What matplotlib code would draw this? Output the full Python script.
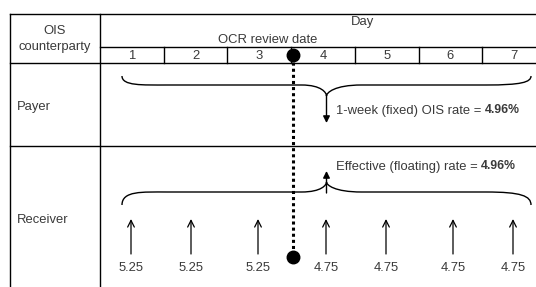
import matplotlib.pyplot as plt
from matplotlib.path import Path
from matplotlib.patches import PathPatch

# %% Data

days = [1, 2, 3, 4, 5, 6, 7]
daily_rates = ["5.25", "5.25", "5.25", "4.75", "4.75", "4.75", "4.75"]
fixed_rate = "4.96%"
floating_rate = "4.96%"
rows = ["Payer", "Receiver"]
review_day = 4  # OCR review at start of day 4

# %% Layout

W, H = 536, 287
x_left, x_col = 10, 100
col_w = 63.7
edges = [x_col + col_w * i for i in range(len(days) + 1)]
centers = [x_col + col_w * (i + 0.5) for i in range(len(days))]
arrow_x = [131, 191, 258, 326, 386, 453, 513]

y_top, y_sub, y_days, y_payer, y_bottom = 14, 47, 63, 146, 287

text_color = "#3a3a3a"
font = "Liberation Sans"
fs = 9.4

fig = plt.figure(figsize=(W / 100, H / 100), dpi=100)
ax = fig.add_axes([0, 0, 1, 1])
ax.set_xlim(0, W)
ax.set_ylim(H, 0)
ax.axis("off")

lw = 1.0
# table grid
ax.plot([x_left, W], [y_top, y_top], color="black", lw=lw)
ax.plot([x_col, W], [y_sub, y_sub], color="black", lw=lw)
ax.plot([x_left, W], [y_days, y_days], color="black", lw=lw)
ax.plot([x_left, W], [y_payer, y_payer], color="black", lw=lw)
ax.plot([x_left, x_left], [y_top, y_bottom], color="black", lw=lw)
ax.plot([x_col, x_col], [y_top, y_bottom], color="black", lw=lw)
for e in edges[1:-1]:
    ax.plot([e, e], [y_sub, y_days], color="black", lw=lw)

# header text
ax.text(55, 31, "OIS", ha="center", va="center", fontsize=fs, family=font, color=text_color)
ax.text(55, 47, "counterparty", ha="center", va="center", fontsize=fs, family=font, color=text_color)
ax.text(363, 22, "Day", ha="center", va="center", fontsize=fs, family=font, color=text_color)
ax.text(268, 40, "OCR review date", ha="center", va="center", fontsize=fs, family=font, color=text_color)
for d, c in zip(days, centers):
    ax.text(c, 56, str(d), ha="center", va="center", fontsize=fs, family=font, color=text_color)

ax.text(17, 107, rows[0], ha="left", va="center", fontsize=fs, family=font, color=text_color)
ax.text(17, 220, rows[1], ha="left", va="center", fontsize=fs, family=font, color=text_color)

# review date marker
rx = edges[review_day - 1] + 2
ax.plot([rx, rx], [56, 256], color="black", lw=2.2, linestyle=(0, (1, 1)))
ax.plot([rx], [55], "o", color="black", ms=9)
ax.plot([rx], [257], "o", color="black", ms=9)


def brace(x0, x1, y, tip, ends):
    xm = (x0 + x1) / 2
    verts = [
        (x0, ends), (x0, y - (ends - y) * 0.1), (x0 + 20, y), (x0 + 45, y),
        (xm - 40, y), (xm - 25, y),
        (xm - 5, y), (xm, tip + (y - tip) * 0.3), (xm, tip),
        (xm, tip + (y - tip) * 0.3), (xm + 8, y), (xm + 35, y),
        (x1 - 45, y), (x1 - 10, y), (x1, y - (y - ends) * 0.3), (x1, ends),
    ]
    codes = [Path.MOVETO, Path.CURVE4, Path.CURVE4, Path.CURVE4,
             Path.LINETO, Path.LINETO,
             Path.CURVE4, Path.CURVE4, Path.CURVE4,
             Path.CURVE4, Path.CURVE4, Path.CURVE4,
             Path.LINETO, Path.CURVE4, Path.CURVE4, Path.CURVE4]
    ax.add_patch(PathPatch(Path(verts, codes), fill=False, lw=1.0, color="black"))


bx0, bx1 = 122, 531
xm = (bx0 + bx1) / 2

# payer brace and fixed rate
brace(bx0, bx1, 85, 96, 76)
ax.annotate("", xy=(xm, 123), xytext=(xm, 95),
            arrowprops=dict(arrowstyle="-|>", color="black", lw=1.0,
                            mutation_scale=10, shrinkA=0, shrinkB=0))
t1 = ax.text(xm + 9, 111, "1-week (fixed) OIS rate = ", ha="left", va="center",
             fontsize=fs, family=font, color=text_color)
ax.annotate(fixed_rate, xy=(1, 0.55), xycoords=t1, ha="left", va="center",
            fontsize=fs - 0.6, family=font, color=text_color, fontweight="bold")

# receiver brace and floating rate
brace(bx0, bx1, 192, 182, 205)
ax.annotate("", xy=(xm, 171), xytext=(xm, 193),
            arrowprops=dict(arrowstyle="-|>", color="black", lw=1.0,
                            mutation_scale=10, shrinkA=0, shrinkB=0))
t2 = ax.text(xm + 9, 167, "Effective (floating) rate = ", ha="left", va="center",
             fontsize=fs, family=font, color=text_color)
ax.annotate(floating_rate, xy=(1, 0.6), xycoords=t2, ha="left", va="center",
            fontsize=fs - 0.6, family=font, color=text_color, fontweight="bold")

# daily rate arrows
for x, r in zip(arrow_x, daily_rates):
    ax.annotate("", xy=(x, 219), xytext=(x, 254),
                arrowprops=dict(arrowstyle="->", color="black", lw=0.9,
                                mutation_scale=12, shrinkA=0, shrinkB=0))
    ax.text(x, 268, r, ha="center", va="center", fontsize=fs, family=font, color=text_color)

fig.savefig("out.png", dpi=100)
